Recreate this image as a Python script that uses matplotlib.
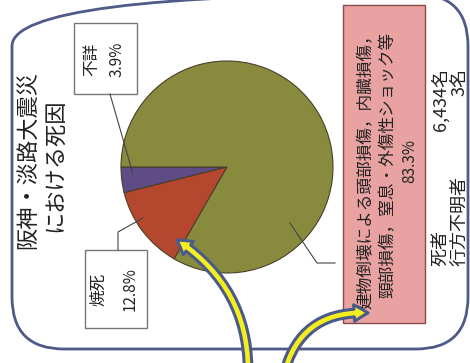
import matplotlib
matplotlib.use("Agg")
import matplotlib.pyplot as plt
from matplotlib.patches import Rectangle, FancyBboxPatch, FancyArrowPatch

plt.rcParams['font.family'] = ['Noto Sans CJK JP', 'DejaVu Sans']

# ---- data ----
categories = ["不詳", "焼死", "建物倒壊による頭部損傷，内臓損傷，\n頸部損傷，窒息・外傷性ショック等"]
shares = [3.9, 12.8, 83.3]
colors = ["#5F4C86", "#B5472F", "#888A3E"]
title_lines = ["阪神・淡路大震災", "における死因"]
summary_labels = ["死者", "行方不明者"]
summary_values = ["6,434名", "3名"]

W, H = 470, 363
def Y(y):
    return H - y

fig = plt.figure(figsize=(4.7, 3.63), dpi=100)
ax = fig.add_axes([0, 0, 1, 1])

# pie
ax.pie(shares, colors=colors, startangle=180, counterclock=True,
       center=(227, Y(167)), radius=106,
       wedgeprops=dict(edgecolor="#4a3f2a", linewidth=0.8))

# rounded frame
frame = FancyBboxPatch((12, Y(349)), 456, 355,
                       boxstyle="round,pad=0,rounding_size=52",
                       facecolor="none", edgecolor="#4F5A88", linewidth=2, zorder=0.5)
ax.add_patch(frame)

# title
ax.text(28, Y(160), title_lines[0], rotation=90, ha="center", va="center", fontsize=16, color="#222222")
ax.text(55, Y(165), title_lines[1], rotation=90, ha="center", va="center", fontsize=16, color="#222222")

# label boxes
box_col = "#777777"
# 不詳
ax.add_patch(Rectangle((74, Y(94)), 63, 71, facecolor="white", edgecolor=box_col, linewidth=1))
ax.text(92, Y(59), categories[0], rotation=90, ha="center", va="center", fontsize=12, color="#222222")
ax.text(117, Y(59), f"{shares[0]}%", rotation=90, ha="center", va="center", fontsize=11, color="#222222")
ax.plot([110, 133], [Y(94), Y(174)], color="#444444", linewidth=0.8)
# 焼死
ax.add_patch(Rectangle((85, Y(328)), 62, 78, facecolor="white", edgecolor=box_col, linewidth=1))
ax.text(99, Y(289), categories[1], rotation=90, ha="center", va="center", fontsize=12, color="#222222")
ax.text(130, Y(289), f"{shares[1]}%", rotation=90, ha="center", va="center", fontsize=11, color="#222222")
ax.plot([118, 118, 143], [Y(250), Y(232), Y(218)], color="#444444", linewidth=0.8)
# main cause
ax.add_patch(Rectangle((343, Y(323)), 82, 318, facecolor="#E9A2A2", edgecolor="#8B4A4A", linewidth=1))
l1, l2 = categories[2].split("\n")
ax.text(366, Y(168), l1, rotation=90, ha="center", va="center", fontsize=12, color="#222222")
ax.text(388, Y(165), l2, rotation=90, ha="center", va="center", fontsize=12, color="#222222")
ax.text(410, Y(161), f"{shares[2]}%", rotation=90, ha="center", va="center", fontsize=11, color="#222222")
ax.plot([290, 317, 335], [Y(223), Y(263), Y(263)], color="#444444", linewidth=0.8)

# summary
for xx, lab, val in zip([440, 459], summary_labels, summary_values):
    ax.text(xx, Y(266), lab, rotation=90, rotation_mode="anchor", ha="left", va="center",
            fontsize=13, color="#222222")
    ax.text(xx, Y(68), val, rotation=90, rotation_mode="anchor", ha="right", va="center",
            fontsize=13, color="#222222")

# arrows
astyle = "simple,head_length=10,head_width=12,tail_width=5.5"
a1 = FancyArrowPatch((248, Y(378)), (177, Y(240)), connectionstyle="arc3,rad=0.28",
                     arrowstyle=astyle, mutation_scale=1, facecolor="#F5EE1E",
                     edgecolor="#4A5A8A", linewidth=2.2, shrinkA=0, shrinkB=0, zorder=5)
a2 = FancyArrowPatch((283, Y(378)), (368, Y(313)), connectionstyle="arc3,rad=-0.42",
                     arrowstyle=astyle, mutation_scale=1, facecolor="#F5EE1E",
                     edgecolor="#4A5A8A", linewidth=2.2, shrinkA=0, shrinkB=0, zorder=5)
ax.add_patch(a1)
ax.add_patch(a2)

ax.set_xlim(0, W)
ax.set_ylim(0, H)
ax.set_aspect("equal")
ax.axis("off")

fig.savefig("out.png", dpi=100)
